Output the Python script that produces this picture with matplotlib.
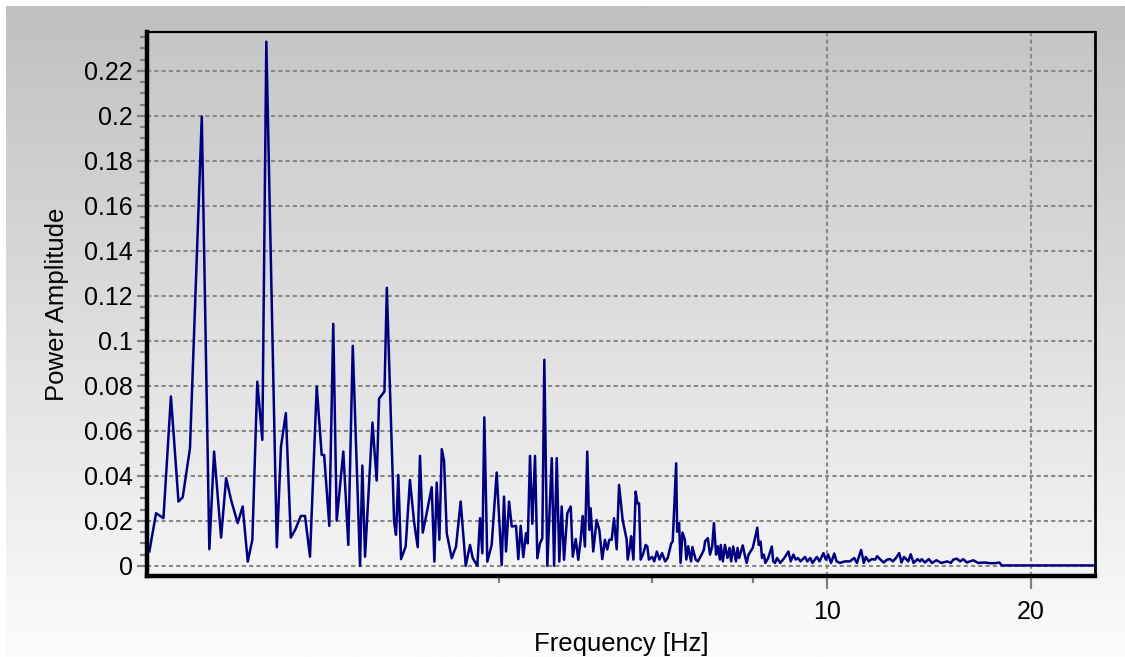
import numpy as np
import matplotlib
matplotlib.use("Agg")
import matplotlib.pyplot as plt
from matplotlib.ticker import FixedLocator, NullFormatter, FuncFormatter

plt.rcParams['font.family'] = ['Liberation Sans', 'DejaVu Sans']

# ---- data ----
freq_hz = [
    1.000, 1.023, 1.049, 1.076, 1.104, 1.120, 1.148, 1.195, 1.226, 1.246,
    1.276, 1.298, 1.320, 1.350, 1.373, 1.397, 1.419, 1.443, 1.468, 1.488,
    1.542, 1.564, 1.590, 1.617, 1.641, 1.673, 1.697, 1.726, 1.766, 1.796,
    1.811, 1.843, 1.868, 1.890, 1.933, 1.966, 1.996, 2.046, 2.062, 2.081,
    2.134, 2.165, 2.183, 2.223, 2.241, 2.297, 2.312, 2.330, 2.352, 2.389,
    2.424, 2.458, 2.489, 2.508, 2.532, 2.566, 2.610, 2.634, 2.655, 2.679,
    2.701, 2.722, 2.747, 2.794, 2.835, 2.880, 2.930, 2.973, 3.001, 3.048,
    3.076, 3.100, 3.121, 3.153, 3.200, 3.255, 3.311, 3.337, 3.360, 3.395,
    3.426, 3.476, 3.503, 3.532, 3.563, 3.596, 3.617, 3.645, 3.674, 3.708,
    3.737, 3.771, 3.801, 3.827, 3.866, 3.925, 3.956, 3.992, 4.027, 4.060,
    4.092, 4.138, 4.186, 4.215, 4.258, 4.295, 4.330, 4.359, 4.393, 4.428,
    4.458, 4.479, 4.519, 4.571, 4.613, 4.660, 4.702, 4.740, 4.772, 4.811,
    4.849, 4.894, 4.933, 4.994, 5.063, 5.080, 5.120, 5.140, 5.180, 5.220,
    5.250, 5.280, 5.310, 5.350, 5.400, 5.430, 5.460, 5.520, 5.560, 5.610,
    5.660, 5.710, 5.770, 5.820, 5.890, 5.920, 5.990, 6.010, 6.050, 6.080,
    6.120, 6.170, 6.200, 6.240, 6.300, 6.330, 6.400, 6.450, 6.530, 6.580,
    6.610, 6.670, 6.720, 6.770, 6.810, 6.860, 6.900, 6.950, 6.970, 7.020,
    7.070, 7.130, 7.180, 7.220, 7.270, 7.340, 7.380, 7.420, 7.510, 7.560,
    7.610, 7.660, 7.770, 7.830, 7.890, 7.930, 7.980, 8.020, 8.070, 8.110,
    8.190, 8.290, 8.330, 8.380, 8.440, 8.530, 8.650, 8.770, 8.840, 8.920,
    8.990, 9.060, 9.140, 9.280, 9.350, 9.450, 9.520, 9.660, 9.750, 9.880,
    9.960, 10.04, 10.14, 10.25, 10.33, 10.45, 10.63, 10.81, 10.97, 11.07,
    11.23, 11.33, 11.41, 11.52, 11.64, 11.78, 11.86, 11.97, 12.12, 12.27,
    12.39, 12.51, 12.64, 12.78, 12.88, 12.99, 13.18, 13.29, 13.42, 13.60,
    13.72, 13.80, 13.95, 14.13, 14.29, 14.50, 14.75, 15.05, 15.23, 15.36,
    15.54, 15.72, 15.89, 16.08, 16.44, 16.71, 17.09, 17.39, 17.70, 17.96,
    18.11, 24.86,
]
power_amp = [
    0.0064, 0.0234, 0.0212, 0.0753, 0.0286, 0.0305, 0.0523, 0.1997, 0.0074, 0.0508,
    0.0126, 0.0390, 0.0293, 0.0190, 0.0264, 0.0019, 0.0116, 0.0819, 0.0560, 0.2330,
    0.0083, 0.0530, 0.0679, 0.0126, 0.0160, 0.0222, 0.0222, 0.0041, 0.0797, 0.0493,
    0.0493, 0.0178, 0.1076, 0.0201, 0.0508, 0.0093, 0.0978, 0.0000, 0.0446, 0.0041,
    0.0637, 0.0379, 0.0744, 0.0775, 0.1236, 0.0197, 0.0138, 0.0404, 0.0030, 0.0086,
    0.0382, 0.0197, 0.0083, 0.0489, 0.0148, 0.0234, 0.0350, 0.0019, 0.0370, 0.0116,
    0.0519, 0.0468, 0.0145, 0.0034, 0.0086, 0.0286, 0.0000, 0.0093, 0.0034, 0.0000,
    0.0212, 0.0056, 0.0660, 0.0019, 0.0093, 0.0415, 0.0004, 0.0308, 0.0064, 0.0286,
    0.0175, 0.0178, 0.0030, 0.0178, 0.0039, 0.0145, 0.0100, 0.0489, 0.0187, 0.0489,
    0.0034, 0.0100, 0.0123, 0.0916, 0.0000, 0.0479, 0.0000, 0.0479, 0.0019, 0.0264,
    0.0027, 0.0234, 0.0264, 0.0041, 0.0119, 0.0027, 0.0116, 0.0222, 0.0086, 0.0508,
    0.0160, 0.0256, 0.0064, 0.0204, 0.0160, 0.0030, 0.0116, 0.0073, 0.0116, 0.0116,
    0.0212, 0.0074, 0.0360, 0.0204, 0.0116, 0.0028, 0.0087, 0.0132, 0.0028, 0.0330,
    0.0278, 0.0278, 0.0028, 0.0050, 0.0093, 0.0087, 0.0028, 0.0040, 0.0020, 0.0064,
    0.0028, 0.0057, 0.0020, 0.0035, 0.0100, 0.0108, 0.0456, 0.0152, 0.0190, 0.0013,
    0.0148, 0.0116, 0.0028, 0.0087, 0.0020, 0.0084, 0.0028, 0.0020, 0.0050, 0.0071,
    0.0110, 0.0123, 0.0050, 0.0087, 0.0190, 0.0050, 0.0087, 0.0028, 0.0093, 0.0020,
    0.0093, 0.0035, 0.0080, 0.0020, 0.0086, 0.0020, 0.0080, 0.0035, 0.0091, 0.0050,
    0.0013, 0.0050, 0.0080, 0.0123, 0.0170, 0.0093, 0.0108, 0.0035, 0.0050, 0.0013,
    0.0035, 0.0086, 0.0020, 0.0013, 0.0035, 0.0013, 0.0035, 0.0064, 0.0020, 0.0050,
    0.0028, 0.0035, 0.0020, 0.0040, 0.0020, 0.0035, 0.0013, 0.0040, 0.0020, 0.0057,
    0.0028, 0.0050, 0.0013, 0.0055, 0.0020, 0.0013, 0.0020, 0.0020, 0.0035, 0.0013,
    0.0071, 0.0013, 0.0040, 0.0020, 0.0030, 0.0028, 0.0043, 0.0030, 0.0015, 0.0028,
    0.0030, 0.0020, 0.0035, 0.0057, 0.0015, 0.0040, 0.0020, 0.0052, 0.0013, 0.0030,
    0.0020, 0.0030, 0.0015, 0.0030, 0.0013, 0.0025, 0.0013, 0.0020, 0.0013, 0.0028,
    0.0032, 0.0020, 0.0030, 0.0015, 0.0025, 0.0013, 0.0015, 0.0012, 0.0012, 0.0015,
    0.0002, 0.0002,
]
y_ticks = [0.0, 0.02, 0.04, 0.06, 0.08, 0.10, 0.12, 0.14, 0.16, 0.18, 0.20, 0.22]
x_major_ticks = [10, 20]
x_minor_ticks = [3.28, 5.52, 7.78]
x_label = "Frequency [Hz]"
y_label = "Power Amplitude"

W, H = 1125, 657
fig = plt.figure(figsize=(W / 100, H / 100), dpi=100)
fig.patch.set_facecolor('white')

# background gradient (figure)
bg = fig.add_axes([6 / W, 0, 1 - 6 / W, 1 - 6 / H], zorder=-10)
grad = np.linspace(0, 1, 256).reshape(-1, 1)
top_c = np.array([192, 192, 192]) / 255
bot_c = np.array([252, 252, 252]) / 255
img = top_c[None, None, :] * (1 - grad[:, :, None]) + bot_c[None, None, :] * grad[:, :, None]
bg.imshow(img, aspect='auto', extent=[0, 1, 0, 1], origin='upper')
bg.set_axis_off()

ax = fig.add_axes([147 / W, 1 - 576 / H, (1095 - 147) / W, (576 - 32) / H])
ax.set_facecolor('none')
# plot area gradient
ptop = np.array([198, 198, 198]) / 255
pbot = np.array([244, 244, 244]) / 255
pimg = ptop[None, None, :] * (1 - grad[:, :, None]) + pbot[None, None, :] * grad[:, :, None]
ax.imshow(pimg, aspect='auto', extent=[0, 1, 0, 1], origin='upper',
          transform=ax.transAxes, zorder=-5)

ax.plot(freq_hz, power_amp, color='#000080', lw=1.8, zorder=3)

ax.set_xscale('log')
ax.set_xlim(0.992, 24.86)
ax.set_ylim(-0.0045, 0.2373)

ax.xaxis.set_major_locator(FixedLocator(x_major_ticks))
ax.xaxis.set_major_formatter(FuncFormatter(lambda v, p: f"{v:g}"))
ax.xaxis.set_minor_locator(FixedLocator(x_minor_ticks))
ax.xaxis.set_minor_formatter(NullFormatter())

ax.yaxis.set_major_locator(FixedLocator(y_ticks))
ax.yaxis.set_major_formatter(FuncFormatter(lambda v, p: f"{v:g}"))
ax.yaxis.set_minor_locator(FixedLocator(np.arange(0.005, 0.236, 0.005)))

ax.tick_params(axis='both', which='major', direction='out', color='#808080',
               width=1.6, labelsize=18, labelcolor='black')
ax.tick_params(axis='y', which='major', length=7, pad=3)
ax.tick_params(axis='y', which='minor', direction='out', color='#808080', length=5, width=1.6)
ax.tick_params(axis='x', which='major', length=9, pad=8)
ax.tick_params(axis='x', which='minor', direction='out', color='#808080', length=5, width=1.6)

ax.grid(True, which='major', axis='both', color='#888888',
        linestyle=(0, (2, 1.5)), linewidth=1.5, zorder=1)
ax.set_axisbelow(True)

for side, lw in [('left', 3.2), ('bottom', 3.2), ('top', 1.6), ('right', 2.0)]:
    ax.spines[side].set_color('black')
    ax.spines[side].set_linewidth(lw)

ax.set_xlabel(x_label, fontsize=18.5, color='black', labelpad=6)
ax.set_ylabel(y_label, fontsize=18.5, color='black', labelpad=11)

fig.savefig('out.png', dpi=100)
